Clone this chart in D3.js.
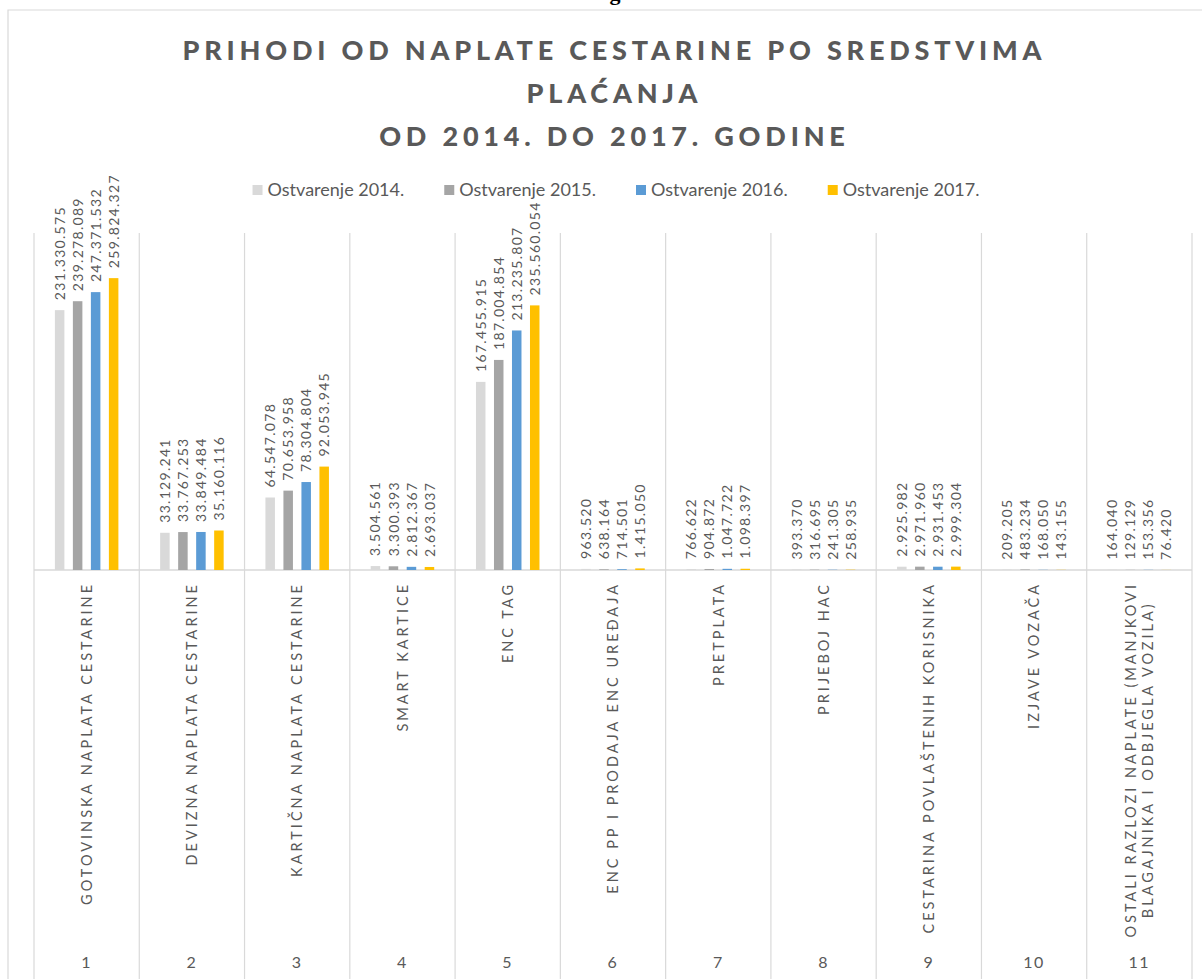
<!DOCTYPE html>
<html><head><meta charset="utf-8">
<script src="https://cdn.jsdelivr.net/npm/d3@7"></script>
<style>
html,body{margin:0;padding:0;background:#fff;}
svg{display:block;font-family:Lato,"Open Sans",sans-serif;}
</style>
</head><body>
<svg id="chart" width="1202" height="979"></svg>
<script>
// ---------- DATA ----------
const titleLines = ["PRIHODI OD NAPLATE CESTARINE PO SREDSTVIMA", "PLAĆANJA", "OD 2014. DO 2017. GODINE"];
const seriesNames = ["Ostvarenje 2014.", "Ostvarenje 2015.", "Ostvarenje 2016.", "Ostvarenje 2017."];
const seriesColors = ["#d9d9d9", "#a5a5a5", "#5b9bd5", "#ffc000"];
const categoryNumbers = ["1","2","3","4","5","6","7","8","9","10","11"];
const categoryLabels = [
  ["GOTOVINSKA NAPLATA CESTARINE"],
  ["DEVIZNA NAPLATA CESTARINE"],
  ["KARTIČNA NAPLATA CESTARINE"],
  ["SMART KARTICE"],
  ["ENC TAG"],
  ["ENC PP I PRODAJA ENC UREĐAJA"],
  ["PRETPLATA"],
  ["PRIJEBOJ HAC"],
  ["CESTARINA POVLAŠTENIH KORISNIKA"],
  ["IZJAVE VOZAČA"],
  ["OSTALI RAZLOZI NAPLATE (MANJKOVI", "BLAGAJNIKA I ODBJEGLA VOZILA)"]
];
const values2014 = [231330575, 33129241, 64547078, 3504561, 167455915, 963520, 766622, 393370, 2925982, 209205, 164040];
const values2015 = [239278089, 33767253, 70653958, 3300393, 187004854, 638164, 904872, 316695, 2971960, 483234, 129129];
const values2016 = [247371532, 33849484, 78304804, 2812367, 213235807, 714501, 1047722, 241305, 2931453, 168050, 153356];
const values2017 = [259824327, 35160116, 92053945, 2693037, 235560054, 1415050, 1098397, 258935, 2999304, 143155, 76420];
const yMax = 300000000;

// ---------- LAYOUT ----------
const svg = d3.select("#chart");
const textColor = "#595959";
const gridColor = "#d9d9d9";
const series = [values2014, values2015, values2016, values2017];

const x = d3.scaleBand().domain(d3.range(categoryNumbers.length)).range([34, 1192]).paddingInner(0).paddingOuter(0);
const xs = d3.scaleBand().domain(d3.range(seriesNames.length)).range([0, x.bandwidth()]).paddingInner(0.472).paddingOuter(1.16);
const y = d3.scaleLinear().domain([0, yMax]).range([570, 233]);

const fmt = d3.formatLocale({decimal: ",", thousands: ".", grouping: [3], currency: ["", ""]}).format(",d");

// chart frame
svg.append("path").attr("d", "M8,979V10H1202").attr("fill", "none").attr("stroke", gridColor).attr("stroke-width", 1.2);

// cut-off document text above the chart
svg.append("text").attr("x", 615).attr("y", 0).attr("text-anchor", "middle")
  .style("font-family", "'Liberation Serif',serif").style("font-weight", "bold").style("font-size", "22px")
  .attr("fill", "#000").text("g");

// title
const titleLS = 4.8;
svg.append("g").selectAll("text").data(titleLines).join("text")
  .attr("x", 612 + titleLS / 2)
  .attr("y", (d, i) => 59.5 + i * 43)
  .attr("text-anchor", "middle")
  .style("font-weight", "900").style("font-size", "27px").style("letter-spacing", titleLS + "px")
  .attr("fill", textColor).text(d => d);

// legend
const legend = svg.append("g");
const items = legend.selectAll("g").data(seriesNames).join("g");
items.append("rect").attr("width", 10).attr("height", 10).attr("y", 185).attr("fill", (d, i) => seriesColors[i]);
items.append("text").attr("x", 15).attr("y", 196).style("font-size", "18px").attr("fill", textColor).text(d => d);
const widths = [];
items.each(function () { widths.push(d3.select(this).select("text").node().getComputedTextLength()); });
const gap = 40;
const total = d3.sum(widths) + widths.length * 15 + gap * (widths.length - 1);
let startX = 616 - total / 2;
items.attr("transform", (d, i) => {
  const t = `translate(${startX},0)`;
  startX += 15 + widths[i] + gap;
  return t;
});

// vertical separators
const bounds = x.domain().map(d => x(d)).concat([x.range()[1]]);
svg.append("g").selectAll("line").data(bounds).join("line")
  .attr("x1", d => d).attr("x2", d => d).attr("y1", y(yMax)).attr("y2", 979)
  .attr("stroke", gridColor).attr("stroke-width", 1.2);

// category axis line
svg.append("line").attr("x1", x.range()[0]).attr("x2", x.range()[1]).attr("y1", y(0)).attr("y2", y(0))
  .attr("stroke", gridColor).attr("stroke-width", 1.5);

// bars
const flat = [];
series.forEach((vals, s) => vals.forEach((v, c) => flat.push({s, c, v})));
svg.append("g").selectAll("rect").data(flat).join("rect")
  .attr("x", d => x(d.c) + xs(d.s))
  .attr("width", xs.bandwidth())
  .attr("y", d => y(d.v))
  .attr("height", d => y(0) - y(d.v))
  .attr("fill", d => seriesColors[d.s]);

// data labels
svg.append("g").selectAll("text").data(flat).join("text")
  .attr("transform", d => `translate(${x(d.c) + xs(d.s) + xs.bandwidth() / 2},${y(d.v) - 10}) rotate(-90)`)
  .attr("dy", "0.36em")
  .style("font-size", "14px").style("letter-spacing", "1.3px")
  .attr("fill", textColor).text(d => fmt(d.v));

// category labels (rotated)
const catLS = 3.0;
const catG = svg.append("g").selectAll("g").data(categoryLabels).join("g");
catG.each(function (lines, c) {
  const g = d3.select(this);
  const n = lines.length;
  const texts = g.selectAll("text").data(lines).join("text")
    .style("font-size", "14.5px").style("letter-spacing", catLS + "px")
    .attr("fill", textColor).text(d => d);
  const maxW = d3.max(texts.nodes(), t => t.getComputedTextLength());
  const cxp = x(c) + x.bandwidth() / 2;
  texts.attr("text-anchor", "middle")
    .attr("transform", (d, i) => `translate(${cxp + (i - (n - 1) / 2) * 17},${582 + maxW / 2}) rotate(-90)`)
    .attr("dy", "0.36em");
});

// category numbers
const numAxis = d3.axisBottom(x).tickSize(0).tickFormat(i => categoryNumbers[i]);
const na = svg.append("g").attr("transform", "translate(0,955)").call(numAxis);
na.select(".domain").remove();
na.selectAll("text").style("font-family", "Lato,'Open Sans',sans-serif").style("font-size", "16px")
  .style("letter-spacing", "1.5px").attr("fill", textColor).attr("dy", "0.35em").attr("y", 7);
</script>
</body></html>
